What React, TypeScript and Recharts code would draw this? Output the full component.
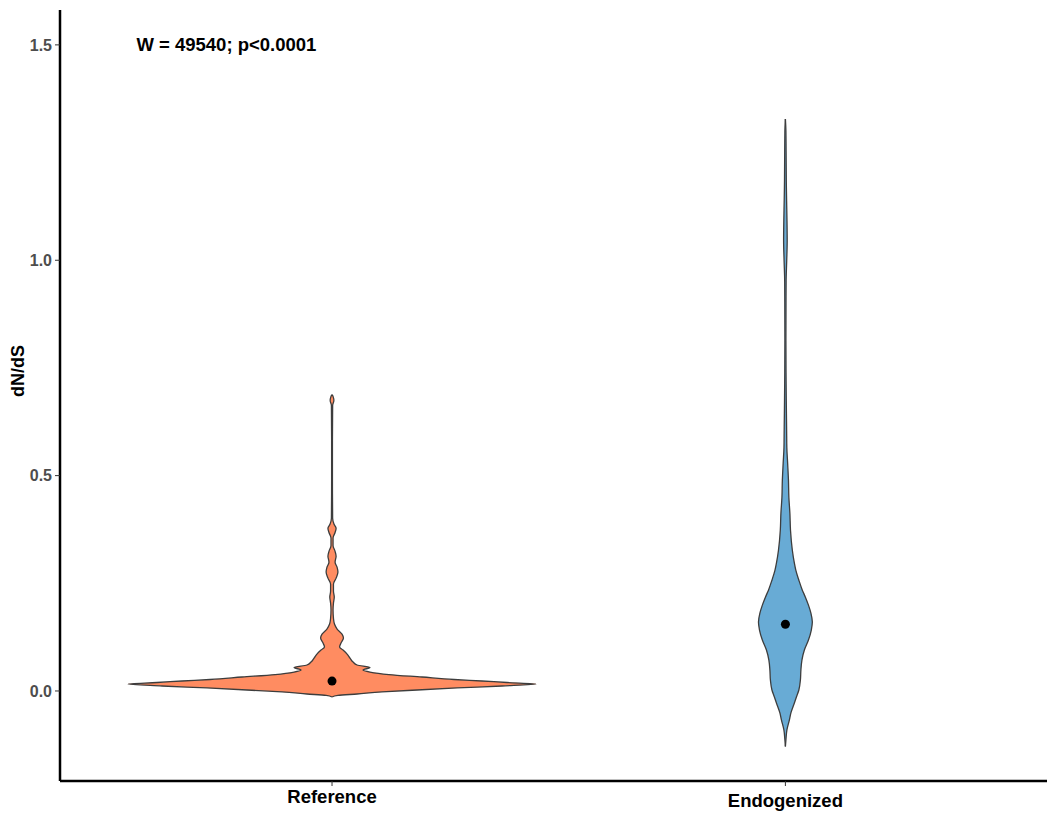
import React from "react";
import { Area, ComposedChart, ReferenceDot, XAxis, YAxis } from "recharts";

const groups = ["Reference", "Endogenized"];
const fills = ["#FF8C61", "#68ABD5"];

// Violin outlines: dN/dS level and kernel density, scaled so the widest slice of the plot is 1.
const referenceLevels = [
  -0.014, -0.0104, -0.007, -0.0023, 0.0023, 0.007, 0.0116, 0.0162, 0.0197, 0.0232, 0.0267, 0.0324,
  0.0382, 0.044, 0.0487, 0.0545, 0.0603, 0.0672, 0.0765, 0.0857, 0.095, 0.102, 0.1112, 0.1228, 0.1321,
  0.1437, 0.1553, 0.169, 0.188, 0.204, 0.218, 0.232, 0.248, 0.262, 0.276, 0.287, 0.299, 0.313, 0.324,
  0.338, 0.355, 0.368, 0.378, 0.387, 0.401, 0.489, 0.582, 0.663, 0.674, 0.684, 0.688,
];
const referenceDensity = [
  0, 0.029, 0.123, 0.245, 0.417, 0.613, 0.833, 1.0, 0.858, 0.735, 0.598, 0.441,
  0.279, 0.186, 0.152, 0.186, 0.123, 0.103, 0.088, 0.074, 0.054, 0.037, 0.044, 0.056, 0.049,
  0.025, 0.012, 0.007, 0.005, 0.007, 0.011, 0.007, 0.007, 0.02, 0.029, 0.025, 0.015, 0.02, 0.015,
  0.005, 0.005, 0.015, 0.02, 0.01, 0.003, 0.002, 0.002, 0.003, 0.009, 0.005, 0,
];

const endogenizedLevels = [
  -0.129, -0.1136, -0.0904, -0.0672, -0.051, -0.0278, -0.0139, 0.0023, 0.0255, 0.0487, 0.0718, 0.095,
  0.1182, 0.1414, 0.1599, 0.1808, 0.1993, 0.2178, 0.2341, 0.2572, 0.2804, 0.2966, 0.3268, 0.3731,
  0.4125, 0.4496, 0.489, 0.5284, 0.5655, 0.6049, 0.6443, 0.7138, 0.8134, 0.9061, 0.9525, 0.9988,
  1.0452, 1.0915, 1.1379, 1.1842, 1.2538, 1.3001, 1.3279,
];
const endogenizedDensity = [
  0, 0.0025, 0.0074, 0.0196, 0.027, 0.044, 0.054, 0.066, 0.0735, 0.076, 0.081, 0.093,
  0.113, 0.127, 0.132, 0.125, 0.113, 0.098, 0.083, 0.066, 0.051, 0.044, 0.034, 0.025,
  0.022, 0.017, 0.015, 0.011, 0.007, 0.006, 0.005, 0.0035, 0.0025, 0.003, 0.0035, 0.0064,
  0.0088, 0.0078, 0.0059, 0.0044, 0.0034, 0.0025, 0,
];

const medians = [0.023, 0.155];
const yTicks = [0, 0.5, 1, 1.5];
const statText = "W = 49540; p<0.0001";
const statPosition = { x: 0.767, y: 1.5 };

const HALF_WIDTH = 0.45; // widest violin spans 0.9 of a category slot
const FONT = "'Liberation Sans', Arial, Helvetica, sans-serif";

type Range = [number | null, number | null];
type Row = { level: number; ref: Range; endo: Range };

const EMPTY: Range = [null, null];

function buildRows(): Row[] {
  const rows: Row[] = [];
  referenceLevels.forEach((level, i) => {
    const w = referenceDensity[i] * HALF_WIDTH;
    rows.push({ level, ref: [1 - w, 1 + w], endo: EMPTY });
  });
  endogenizedLevels.forEach((level, i) => {
    const w = endogenizedDensity[i] * HALF_WIDTH;
    rows.push({ level, ref: EMPTY, endo: [2 - w, 2 + w] });
  });
  return rows.sort((a, b) => a.level - b.level);
}

const rows = buildRows();

function GroupTick(props: any) {
  const { x, y, payload } = props;
  const label = groups[payload.value - 1] ?? "";
  // labels with descenders sit a little lower, as the ink box is centred
  const drop = /[gjpqy]/.test(label) ? 4 : 0;
  return (
    <text x={x} y={y + 15 + drop} textAnchor="middle" fill="#000" fontSize={18.5} fontWeight="bold" fontFamily={FONT}>
      {label}
    </text>
  );
}

function AxisTitle() {
  return (
    <text
      x={18}
      y={371}
      transform="rotate(-90, 18, 371)"
      textAnchor="middle"
      dominantBaseline="central"
      fill="#000"
      fontSize={18}
      fontWeight="bold"
      fontFamily={FONT}
    >
      dN/dS
    </text>
  );
}

export default function App() {
  return (
    <div style={{ position: "absolute", left: 0, top: 0, width: 1047, height: 815, background: "#fff", overflow: "hidden" }}>
      <ComposedChart
        width={1047}
        height={815}
        data={rows}
        layout="vertical"
        margin={{ top: 10, right: 0, bottom: 0, left: 0 }}
      >
        <XAxis
          type="number"
          domain={[0.4, 2.577]}
          allowDataOverflow
          ticks={[1, 2]}
          height={34}
          tickSize={5}
          tickMargin={2}
          tick={<GroupTick />}
          axisLine={{ stroke: "#000", strokeWidth: 2.5 }}
          tickLine={{ stroke: "#333" }}
        />
        <YAxis
          type="number"
          dataKey="level"
          domain={[-0.209, 1.581]}
          reversed
          allowDataOverflow
          ticks={yTicks}
          tickFormatter={(v: number) => v.toFixed(1)}
          width={60}
          tickSize={5}
          tickMargin={3}
          tick={{ fill: "#4D4D4D", fontSize: 16, fontWeight: "bold", fontFamily: FONT }}
          axisLine={{ stroke: "#000", strokeWidth: 2.5 }}
          tickLine={{ stroke: "#333" }}
          label={<AxisTitle />}
        />
        <Area
          dataKey={(d: Row) => d.ref}
          type="monotone"
          connectNulls
          fill={fills[0]}
          fillOpacity={1}
          stroke="#3D3D3D"
          strokeWidth={1.3}
          isAnimationActive={false}
          activeDot={false}
          dot={false}
        />
        <Area
          dataKey={(d: Row) => d.endo}
          type="monotone"
          connectNulls
          fill={fills[1]}
          fillOpacity={1}
          stroke="#3D3D3D"
          strokeWidth={1.3}
          isAnimationActive={false}
          activeDot={false}
          dot={false}
        />
        {medians.map((m, i) => (
          <ReferenceDot key={groups[i]} x={i + 1} y={m} r={4.5} fill="#000" stroke="none" />
        ))}
        <ReferenceDot
          x={statPosition.x}
          y={statPosition.y}
          r={0}
          fill="none"
          stroke="none"
          label={{ value: statText, position: "center", fill: "#000", fontSize: 18.5, fontWeight: "bold", fontFamily: FONT }}
        />
      </ComposedChart>
    </div>
  );
}
